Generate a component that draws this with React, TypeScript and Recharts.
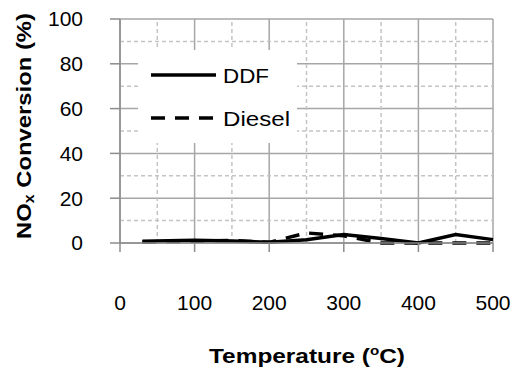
import React from 'react';
import {
  LineChart,
  Line,
  XAxis,
  YAxis,
  CartesianGrid,
  ReferenceLine,
  Legend,
  Label,
} from 'recharts';

const temperatures = [30, 100, 150, 200, 250, 300, 350, 400, 450, 500];
const ddfValues = [0.8, 1.2, 0.9, 0.3, 1.5, 3.8, 2.0, 0.0, 3.8, 1.5];
const dieselValues = [0.5, 0.8, 1.2, 0.3, 4.5, 3.2, 0.0, 0.0, 0.0, 0.0];

const xTicks = [0, 100, 200, 300, 400, 500];
const yTicks = [0, 20, 40, 60, 80, 100];
const xMinor = [50, 150, 250, 350, 450];
const yMinor = [10, 30, 50, 70, 90];

const seriesNames = ['DDF', 'Diesel'];
const legendTextLengths = [46, 67];

const data = temperatures.map((t, i) => ({
  t,
  DDF: ddfValues[i],
  Diesel: dieselValues[i],
}));

const FONT = "Arial, 'Liberation Sans', sans-serif";
const MAJOR = '#a6a6a6';
const MINOR = '#c4c4c4';
const DASH = '14 10';

const renderLegend = () => (
  <div style={{ width: 159, height: 93, background: '#fff' }}>
    <svg width={159} height={93}>
      {seriesNames.map((name, i) => {
        const y = 25 + i * 43;
        return (
          <g key={name}>
            <line
              x1={13}
              x2={78}
              y1={y}
              y2={y}
              stroke="#000"
              strokeWidth={3.5}
              strokeDasharray={i === 1 ? DASH : undefined}
            />
            <text
              x={85}
              y={y + 7.5}
              fontSize={21}
              fontFamily={FONT}
              fill="#000"
              textLength={legendTextLengths[i]}
              lengthAdjust="spacingAndGlyphs"
            >
              {name}
            </text>
          </g>
        );
      })}
    </svg>
  </div>
);

const YTitle = (props: any) => {
  const cx = 23;
  const cy = 126;
  return (
    <text
      x={cx}
      y={cy}
      transform={`rotate(-90, ${cx}, ${cy})`}
      textAnchor="middle"
      dominantBaseline="central"
      fontSize={21}
      fontWeight="bold"
      fontFamily={FONT}
      fill="#000"
      textLength={226}
      lengthAdjust="spacingAndGlyphs"
    >
      NO
      <tspan dy={6} fontSize={14}>x</tspan>
      <tspan dy={-6}> Conversion (%)</tspan>
    </text>
  );
};

const XTitle = (props: any) => {
  return (
    <text
      x={307}
      y={363}
      textAnchor="middle"
      fontSize={21}
      fontWeight="bold"
      fontFamily={FONT}
      fill="#000"
      textLength={196}
      lengthAdjust="spacingAndGlyphs"
    >
      Temperature (
      <tspan dy={-8} fontSize={13}>o</tspan>
      <tspan dy={8}>C)</tspan>
    </text>
  );
};

export default function App() {
  return (
    <div style={{ position: 'absolute', left: 0, top: 0, background: '#fff' }}>
      <LineChart
        width={514}
        height={368}
        data={data}
        margin={{ top: 19, right: 21, left: 0, bottom: 0 }}
      >
        <CartesianGrid stroke={MAJOR} strokeWidth={1.5} />
        {xMinor.map((v) => (
          <ReferenceLine key={`xm${v}`} x={v} stroke={MINOR} strokeWidth={1.5} strokeDasharray="4 3" />
        ))}
        {yMinor.map((v) => (
          <ReferenceLine key={`ym${v}`} y={v} stroke={MINOR} strokeWidth={1.5} strokeDasharray="4 3" />
        ))}
        <XAxis
          dataKey="t"
          type="number"
          domain={[0, 500]}
          ticks={xTicks}
          interval={0}
          height={125}
          tickSize={9}
          tickMargin={43}
          axisLine={{ stroke: '#8c8c8c', strokeWidth: 1.5 }}
          tickLine={{ stroke: '#8c8c8c', strokeWidth: 1.5 }}
          tick={{ fontSize: 21, fill: '#000', fontFamily: FONT }}
        >
          <Label content={XTitle} />
        </XAxis>
        <YAxis
          type="number"
          domain={[0, 100]}
          ticks={yTicks}
          interval={0}
          width={120}
          tickSize={10}
          tickMargin={27}
          axisLine={{ stroke: '#8c8c8c', strokeWidth: 1.5 }}
          tickLine={{ stroke: '#8c8c8c', strokeWidth: 1.5 }}
          tick={{ fontSize: 21, fill: '#000', fontFamily: FONT }}
        >
          <Label content={YTitle} />
        </YAxis>
        <Line
          dataKey="DDF"
          stroke="#000"
          strokeWidth={3.5}
          dot={false}
          isAnimationActive={false}
          type="linear"
        />
        <Line
          dataKey="Diesel"
          stroke="#000"
          strokeWidth={3.5}
          strokeDasharray={DASH}
          dot={false}
          isAnimationActive={false}
          type="linear"
        />
        <Legend
          layout="vertical"
          align="center"
          verticalAlign="middle"
          content={renderLegend}
          wrapperStyle={{ left: 138, top: 50, width: 159, height: 93 }}
        />
      </LineChart>
    </div>
  );
}
